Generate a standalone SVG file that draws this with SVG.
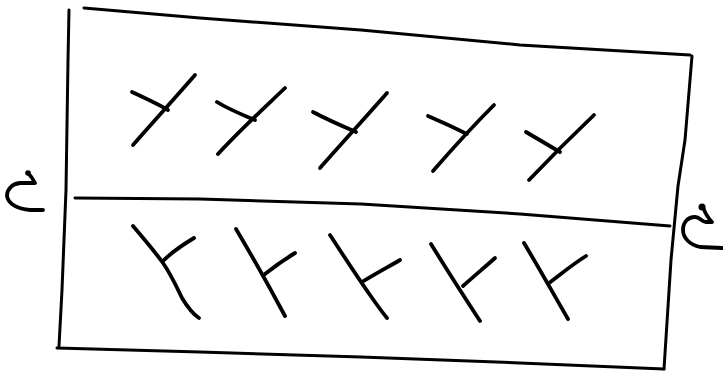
<svg xmlns="http://www.w3.org/2000/svg" width="723" height="372" viewBox="0 0 723 372">
<style>
.s{fill:none;stroke:#000;stroke-linecap:round;stroke-linejoin:round}
.f{stroke-width:3}
.m{stroke-width:3.8}
.b{fill:#000}
</style>
<rect width="723" height="372" fill="#fff"/>
<g id="frame">
<path class="s f" d="M69,10 L68,60 L66,190 L62,290 L59,346"/>
<path class="s f" d="M84,8 L200,18 L361,30 L520,45 L690,55"/>
<path class="s f" d="M692,56 L685,140 L678,186 L671,260 L664,369"/>
<path class="s f" d="M57,348 L200,352 L361,357 L520,363 L664,369"/>
<path class="s f" d="M75,198 L200,199 L361,204 L520,214 L670,226"/>
</g>
<g id="rotate-left">
<path class="s m" d="M43,210 L30,210 C18,209 8,204 7,196 C7,189 12,184 20,183 L35,183 C33,179 31,176 28,173"/>
<circle class="b" cx="28" cy="173" r="2.8"/>
</g>
<g id="rotate-right">
<path class="s m" d="M722,248 L700,247 C690,245 683,238 683,230 C683,222 688,217 695,217 C700,217 702,222 706,222 L712,222 C708,218 705,213 703,207"/>
<circle class="b" cx="702" cy="207" r="3.5"/>
</g>
<g id="top-row">
<path class="s m" d="M133,145 C155,120 175,98 195,75"/><path class="s m" d="M132,92 C145,98 158,104 168,110"/>
<path class="s m" d="M218,154 C240,130 262,110 285,88"/><path class="s m" d="M217,102 C230,110 243,115 255,120"/>
<path class="s m" d="M320,168 C343,142 365,118 387,93"/><path class="s m" d="M313,112 C328,120 342,126 356,132"/>
<path class="s m" d="M433,171 C453,148 473,126 494,105"/><path class="s m" d="M428,116 C442,122 455,128 467,134"/>
<path class="s m" d="M529,180 C550,158 572,136 594,115"/><path class="s m" d="M526,132 C538,139 550,146 560,152"/>
</g>
<g id="bottom-row">
<path class="s m" d="M133,226 C145,240 155,252 163,263 C172,276 178,290 182,298 C188,308 193,314 199,318"/><path class="s m" d="M163,261 C172,252 184,244 194,238"/>
<path class="s m" d="M236,229 C252,256 270,288 285,316"/><path class="s m" d="M265,274 C275,266 285,259 295,253"/>
<path class="s m" d="M330,235 C345,258 358,278 370,295 C377,305 382,312 387,318"/><path class="s m" d="M362,282 C375,274 388,267 400,260"/>
<path class="s m" d="M431,244 C447,270 463,295 480,321"/><path class="s m" d="M463,286 C474,276 485,267 495,258"/>
<path class="s m" d="M524,243 C539,268 553,293 568,319"/><path class="s m" d="M549,283 C561,274 573,264 586,256"/>
</g>
</svg>
